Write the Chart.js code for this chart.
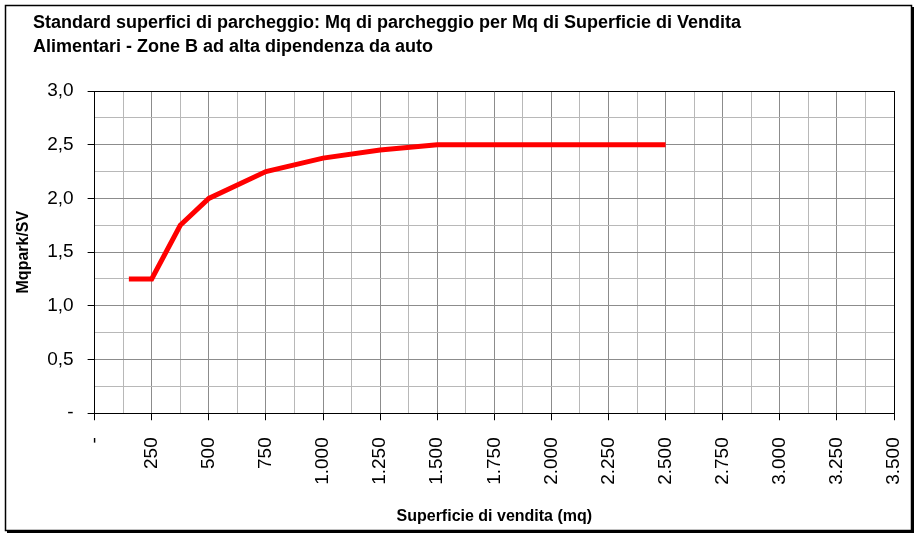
<!DOCTYPE html>
<html>
<head>
<meta charset="utf-8">
<script src="https://cdn.jsdelivr.net/npm/chart.js@4.4.1/dist/chart.umd.min.js"></script>
<style>
  body { margin: 0; background: #fff; }
</style>
</head>
<body>
<canvas id="grafico-parcheggio" width="916" height="533"></canvas>
<script>
// --- DATI ---
const titoloRighe = [
  "Standard superfici di parcheggio: Mq di parcheggio per Mq di Superficie di Vendita",
  "Alimentari - Zone B ad alta dipendenza da auto"
];
const superficie = [150, 250, 375, 500, 750, 1000, 1250, 1500, 2500];
const mqPark = [1.25, 1.25, 1.75, 2.0, 2.25, 2.375, 2.45, 2.5, 2.5];
const etichetteX = ["-", "250", "500", "750", "1.000", "1.250", "1.500", "1.750", "2.000", "2.250", "2.500", "2.750", "3.000", "3.250", "3.500"];
const etichetteY = ["-", "0,5", "1,0", "1,5", "2,0", "2,5", "3,0"];

const FONT = '"Liberation Sans", Arial, sans-serif';

// --- CORNICE E TITOLO ---
const cornice = {
  id: "cornice",
  beforeDraw(chart) {
    const ctx = chart.ctx;
    ctx.save();
    ctx.fillStyle = "#fff";
    ctx.fillRect(0, 0, chart.width, chart.height);
    ctx.restore();
  },
  afterDraw(chart) {
    const ctx = chart.ctx;
    ctx.save();
    ctx.strokeStyle = "#000";
    ctx.lineWidth = 1.5;
    ctx.strokeRect(5.5, 5.5, 906, 525);
    ctx.lineWidth = 2;
    ctx.beginPath();
    ctx.moveTo(913, 7);
    ctx.lineTo(913, 532);
    ctx.lineTo(7, 532);
    ctx.stroke();
    ctx.fillStyle = "#000";
    ctx.font = "bold 18px " + FONT;
    ctx.textBaseline = "alphabetic";
    titoloRighe.forEach((riga, i) => ctx.fillText(riga, 33, 28 + i * 23.5));
    ctx.restore();
  }
};

const punti = superficie.map((x, i) => ({ x: x, y: mqPark[i] }));

new Chart(document.getElementById("grafico-parcheggio").getContext("2d"), {
  type: "line",
  data: {
    datasets: [{
      data: punti,
      borderColor: "#ff0000",
      borderWidth: 5,
      pointRadius: 0,
      tension: 0,
      fill: false
    }]
  },
  options: {
    responsive: false,
    animation: false,
    devicePixelRatio: 1,
    layout: { padding: { top: 91, left: 6, right: 22, bottom: 7 } },
    plugins: { legend: { display: false }, title: { display: false }, tooltip: { enabled: false } },
    scales: {
      x: {
        type: "linear",
        min: 0,
        max: 3500,
        afterFit: (s) => { s.paddingRight = 0; },
        border: { color: "#000", width: 1 },
        grid: {
          color: (c) => c.tick.value === 3500 ? "#000" : (c.tick.value % 250 === 0 ? "#8c8c8c" : "#b8b8b8"),
          tickColor: (c) => c.tick.value % 250 === 0 ? "#000" : "rgba(0,0,0,0)",
          tickLength: 7
        },
        ticks: {
          stepSize: 125,
          autoSkip: false,
          minRotation: 90,
          maxRotation: 90,
          padding: 17,
          color: "#000",
          font: { family: FONT, size: 19 },
          callback: (v) => v % 250 === 0 ? etichetteX[v / 250] : ""
        },
        title: {
          display: true,
          text: "Superficie di vendita (mq)",
          color: "#000",
          font: { family: FONT, size: 16, weight: "bold" },
          padding: { top: 5, bottom: 0 }
        }
      },
      y: {
        min: 0,
        max: 3,
        border: { color: "#000", width: 1 },
        grid: {
          color: (c) => c.tick.value === 3 ? "#000" : (Math.round(c.tick.value * 100) % 50 === 0 ? "#8c8c8c" : "#b8b8b8"),
          tickColor: (c) => Math.round(c.tick.value * 100) % 50 === 0 ? "#000" : "rgba(0,0,0,0)",
          tickLength: 7
        },
        ticks: {
          stepSize: 0.25,
          autoSkip: false,
          padding: 14,
          color: "#000",
          font: { family: FONT, size: 19 },
          callback: (v) => Math.round(v * 100) % 50 === 0 ? etichetteY[Math.round(v * 2)] : ""
        },
        title: {
          display: true,
          text: "Mqpark/SV",
          color: "#000",
          font: { family: FONT, size: 16, weight: "bold" },
          padding: { top: 8, bottom: 0 }
        }
      }
    }
  },
  plugins: [cornice]
});
</script>
</body>
</html>
